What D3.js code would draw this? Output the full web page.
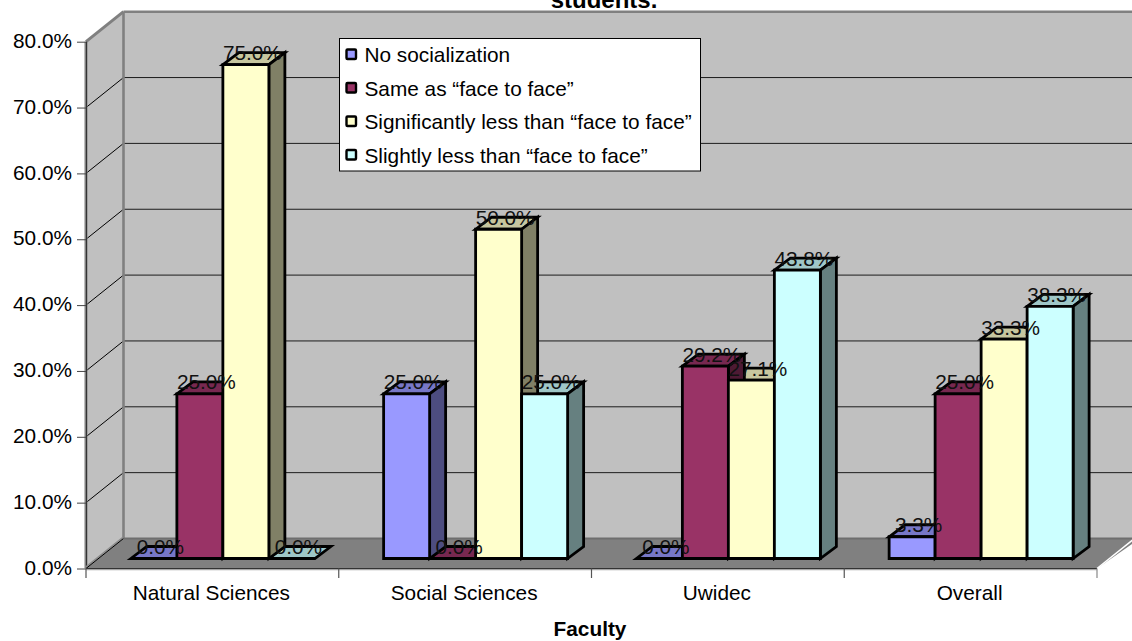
<!DOCTYPE html>
<html>
<head>
<meta charset="utf-8">
<script src="https://cdn.jsdelivr.net/npm/d3@7"></script>
<style>
html,body{margin:0;padding:0;background:#fff;overflow:hidden}
svg{display:block;font-family:"Liberation Sans",Arial,sans-serif;fill:#000}
</style>
</head>
<body>
<svg id="chart" width="1132" height="641"></svg>
<script>
// Faculty categories and the share of students per answer
const categories = ["Natural Sciences", "Social Sciences", "Uwidec", "Overall"];
const seriesNames = ["No socialization", "Same as “face to face”", "Significantly less than “face to face”", "Slightly less than “face to face”"];
const noSocialization = [0, 25.0, 0, 3.3];
const sameAsFace = [25.0, 0, 29.2, 25.0];
const significantlyLess = [75.0, 50.0, 27.1, 33.3];
const slightlyLess = [0, 25.0, 43.8, 38.3];
const seriesValues = [noSocialization, sameAsFace, significantlyLess, slightlyLess];
const seriesColors = ["#9999ff", "#993366", "#ffffcc", "#ccffff"];
const yTicks = [0, 10, 20, 30, 40, 50, 60, 70, 80];

const svg = d3.select("#chart");

// Oblique projection: full depth of the box and the offset of the bar row
const depthX = 37.5, depthY = -30;
const rowX = 11, rowY = -10;
const barDX = 16, barDY = -12;

const x = d3.scaleBand().domain(categories).range([86, 1097]);
const y = d3.scaleLinear().domain([0, 80]).range([568.5, 41.7]);
const barW = 46;
const barX = (c, s) => x(c) + x.bandwidth() / 2 - 2 * barW + rowX + s * barW - 0.5;

const poly = (pts, fill, stroke, sw) => svg.append("polygon")
  .attr("points", pts.map(p => p.join(",")).join(" "))
  .attr("fill", fill).attr("stroke", stroke || "none").attr("stroke-width", sw || 0)
  .attr("stroke-linejoin", "miter");
const line = (x1, y1, x2, y2, c, w) => svg.append("line")
  .attr("x1", x1).attr("y1", y1).attr("x2", x2).attr("y2", y2)
  .attr("stroke", c).attr("stroke-width", w);

const [x0, x1] = x.range();
const yB = y(0), yT = y(80);
const W = 1140;

// Back wall, side wall and floor of the box
poly([[x0 + depthX, yT + depthY], [W, yT + depthY], [W, yB + depthY], [x0 + depthX, yB + depthY]], "#c0c0c0");
poly([[x0, yT], [x0 + depthX, yT + depthY], [x0 + depthX, yB + depthY], [x0, yB]], "#c0c0c0");
poly([[x0, yB], [x0 + depthX, yB + depthY], [W, yB + depthY], [W, yB + depthY], [x1, yB]], "#808080");

// Gridlines wrapping the side wall and back wall
yTicks.slice(1, -1).forEach(t => {
  line(x0, y(t), x0 + depthX, y(t) + depthY, "#000", 1);
  line(x0 + depthX, y(t) + depthY, W, y(t) + depthY, "#1c1c1c", 1);
});

// Wall edges
line(x0 + depthX, yT + depthY, W, yT + depthY, "#808080", 2.6);
line(x0, yT, x0 + depthX, yT + depthY, "#808080", 3);
line(x0 + depthX, yT + depthY, x0 + depthX, yB + depthY, "#808080", 2.6);
line(x0, yT, x0, yB, "#808080", 3);
line(x0 + 0.5, yT, x0 + 0.5, yB, "#333", 1);
line(x0, yB - 1, x0 + depthX, yB + depthY - 1, "#8c8c8c", 2.5);
line(x0, yB, x0 + depthX, yB + depthY, "#000", 1);
line(x0 + depthX, yB + depthY, W, yB + depthY, "#6e6e6e", 2);
line(x1, yB, x1 + depthX, yB + depthY, "#fff", 1.5);
line(x0, yB + 1, x1, yB + 1, "#a6a6a6", 1.5);
line(x0, yB, x1, yB, "#333", 1);

const shade = (c, k) => {
  const q = d3.rgb(c);
  return d3.rgb(q.r * k, q.g * k, q.b * k).formatHex();
};
const barStroke = 2.8;

categories.forEach((c, ci) => {
  // Tops and sides right to left, so a taller bar's side lies over a shorter neighbour's top
  d3.range(seriesValues.length - 1, -1, -1).forEach(s => {
    const v = seriesValues[s][ci], col = seriesColors[s];
    const l = barX(c, s), r = l + barW;
    const b = yB + rowY, t = y(v) + rowY;
    poly([[l, t], [l + barDX, t + barDY], [r + barDX, t + barDY], [r, t]], shade(col, 0.78), "#000", barStroke);
    if (v > 0) {
      poly([[r, t], [r + barDX, t + barDY], [r + barDX, b + barDY], [r, b]], shade(col, 0.5), "#000", barStroke);
    }
  });
  // Front faces left to right
  seriesValues.forEach((vals, s) => {
    const v = vals[ci];
    if (v > 0) {
      const l = barX(c, s), r = l + barW;
      const b = yB + rowY, t = y(v) + rowY;
      poly([[l, t], [r, t], [r, b], [l, b]], seriesColors[s], "#000", barStroke);
    }
  });
});

// Value labels sit above every bar
categories.forEach((c, ci) => {
  seriesValues.forEach((vals, s) => {
    const v = vals[ci];
    svg.append("text")
      .attr("x", barX(c, s) + barW / 2 + 6.5)
      .attr("y", y(v) + rowY - 4.5)
      .attr("text-anchor", "middle")
      .attr("font-size", 20.8)
      .attr("fill", "#111")
      .text(v.toFixed(1) + "%");
  });
});

// Value axis
const yAxis = d3.axisLeft(y).tickValues(yTicks).tickFormat(d => d.toFixed(1) + "%").tickSize(9).tickPadding(5);
const gy = svg.append("g").attr("transform", `translate(${x0},0)`).call(yAxis);
gy.select(".domain").remove();
gy.selectAll("text").attr("font-size", 20.8).attr("font-family", "Liberation Sans").attr("fill", "#000").attr("dy", "0.27em");
gy.selectAll("line").attr("stroke", "#444");

// Category axis: labels at band centres, ticks at band edges
const xAxis = d3.axisBottom(x).tickSize(0).tickPadding(16.5);
const gx = svg.append("g").attr("transform", `translate(-1,${yB})`).call(xAxis);
gx.select(".domain").remove();
gx.selectAll("text").attr("font-size", 20.8).attr("font-family", "Liberation Sans").attr("fill", "#000");
categories.forEach(c => line(x(c), yB, x(c), yB + 9.5, "#555", 1.2));
line(x1, yB, x1, yB + 9.5, "#888", 1.2);

// Titles
svg.append("text").attr("x", 604).attr("y", 8).attr("text-anchor", "middle")
  .attr("font-size", 24).attr("font-weight", "bold").text("students.");
svg.append("text").attr("x", 590).attr("y", 636).attr("text-anchor", "middle")
  .attr("font-size", 20.8).attr("font-weight", "bold").text("Faculty");

// Legend
svg.append("rect").attr("x", 339.5).attr("y", 38.5).attr("width", 361).attr("height", 132.5)
  .attr("fill", "#fff").attr("stroke", "#000").attr("stroke-width", 1);
const legendY = d3.scalePoint().domain(seriesNames).range([54.5, 155]);
seriesNames.forEach((n, i) => {
  const cy = legendY(n);
  svg.append("rect").attr("x", 346.5).attr("y", cy - 5).attr("width", 9.5).attr("height", 9.5)
    .attr("fill", seriesColors[i]).attr("stroke", "#000").attr("stroke-width", 2.4).attr("rx", 1);
  svg.append("text").attr("x", 364.5).attr("y", cy + 7.5).attr("font-size", 20.8).text(n);
});
</script>
</body>
</html>
